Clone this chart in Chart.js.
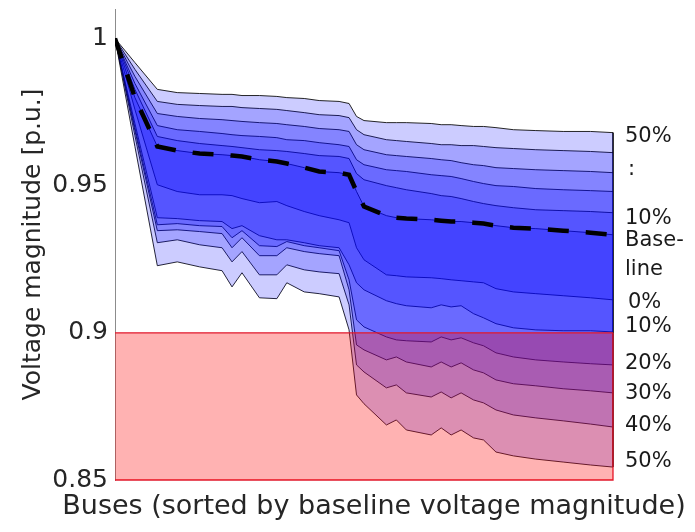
<!DOCTYPE html>
<html>
<head>
<meta charset="utf-8">
<title>Voltage magnitude by bus</title>
<script src="https://cdn.jsdelivr.net/npm/chart.js@4/dist/chart.umd.min.js"></script>
<style>
  html, body { margin: 0; padding: 0; background: #ffffff; }
  #wrap { width: 695px; height: 532px; }
</style>
</head>
<body>
<div id="wrap"><canvas id="chart" width="695" height="532"></canvas></div>
<script>
// Bus positions (sorted by baseline voltage magnitude)
const buses = [0, 8, 17, 25, 34, 43, 47, 51, 58, 65, 69, 76, 82, 90, 94, 97,
               100, 109, 113, 117, 127, 131, 135, 139, 144, 148, 153, 160, 169, 180, 191, 200];

// Voltage profiles [p.u.] for raised-voltage scenarios
const up50 = [1.0, 0.9918, 0.9827, 0.9816, 0.9813, 0.9810, 0.9810, 0.9806, 0.9806, 0.9803, 0.9799, 0.9796, 0.9789, 0.9786, 0.9779, 0.9735,
              0.9721, 0.9714, 0.9714, 0.9714, 0.9711, 0.9707, 0.9707, 0.9704, 0.9701, 0.9701, 0.9697, 0.9690, 0.9687, 0.9684, 0.9684, 0.9680];
const up40 = [1.0, 0.9895, 0.9786, 0.9776, 0.9772, 0.9769, 0.9769, 0.9765, 0.9762, 0.9759, 0.9755, 0.9748, 0.9741, 0.9738, 0.9731, 0.9690,
              0.9673, 0.9656, 0.9653, 0.9650, 0.9643, 0.9639, 0.9639, 0.9636, 0.9636, 0.9633, 0.9629, 0.9626, 0.9622, 0.9619, 0.9616, 0.9612];
const up30 = [1.0, 0.9871, 0.9745, 0.9735, 0.9728, 0.9724, 0.9721, 0.9718, 0.9714, 0.9711, 0.9707, 0.9701, 0.9694, 0.9690, 0.9684, 0.9639,
              0.9622, 0.9605, 0.9602, 0.9599, 0.9592, 0.9588, 0.9585, 0.9578, 0.9571, 0.9568, 0.9561, 0.9558, 0.9554, 0.9551, 0.9548, 0.9544];
const up20 = [1.0, 0.9847, 0.9704, 0.9690, 0.9684, 0.9677, 0.9673, 0.9670, 0.9667, 0.9663, 0.9656, 0.9653, 0.9646, 0.9639, 0.9633, 0.9588,
              0.9571, 0.9554, 0.9551, 0.9548, 0.9537, 0.9534, 0.9531, 0.9524, 0.9514, 0.9507, 0.9500, 0.9497, 0.9490, 0.9486, 0.9483, 0.9480];
const up10 = [1.0, 0.9827, 0.9667, 0.9653, 0.9643, 0.9636, 0.9633, 0.9629, 0.9622, 0.9619, 0.9616, 0.9609, 0.9602, 0.9599, 0.9592, 0.9541,
              0.9520, 0.9500, 0.9493, 0.9486, 0.9473, 0.9466, 0.9463, 0.9456, 0.9446, 0.9439, 0.9432, 0.9425, 0.9418, 0.9415, 0.9412, 0.9408];

// Baseline profile
const baseline = [1.0, 0.9799, 0.9633, 0.9619, 0.9609, 0.9605, 0.9602, 0.9599, 0.9588, 0.9582, 0.9575, 0.9561, 0.9548, 0.9544, 0.9537, 0.9480,
                  0.9429, 0.9398, 0.9391, 0.9388, 0.9384, 0.9381, 0.9378, 0.9378, 0.9374, 0.9371, 0.9364, 0.9357, 0.9354, 0.9347, 0.9340, 0.9333];

// Voltage profiles [p.u.] for lowered-voltage scenarios
const low0 = [1.0, 0.9759, 0.9503, 0.9480, 0.9469, 0.9469, 0.9466, 0.9456, 0.9442, 0.9446, 0.9432, 0.9412, 0.9398, 0.9384, 0.9374, 0.9289,
              0.9248, 0.9197, 0.9194, 0.9190, 0.9187, 0.9184, 0.9180, 0.9177, 0.9173, 0.9170, 0.9150, 0.9139, 0.9133, 0.9126, 0.9119, 0.9112];
const low10 = [1.0, 0.9711, 0.9391, 0.9388, 0.9381, 0.9378, 0.9354, 0.9364, 0.9330, 0.9316, 0.9316, 0.9306, 0.9296, 0.9289, 0.9231, 0.9170,
               0.9146, 0.9109, 0.9099, 0.9092, 0.9085, 0.9095, 0.9088, 0.9092, 0.9065, 0.9051, 0.9031, 0.9017, 0.9010, 0.9007, 0.9007, 0.9003];
const low20 = [1.0, 0.9697, 0.9367, 0.9371, 0.9364, 0.9361, 0.9323, 0.9347, 0.9296, 0.9293, 0.9310, 0.9296, 0.9289, 0.9279, 0.9180, 0.9044,
               0.9020, 0.8986, 0.8976, 0.8973, 0.8969, 0.8986, 0.8976, 0.8983, 0.8966, 0.8956, 0.8932, 0.8918, 0.8908, 0.8901, 0.8895, 0.8891];
const low30 = [1.0, 0.9687, 0.9347, 0.9350, 0.9344, 0.9337, 0.9289, 0.9323, 0.9262, 0.9262, 0.9289, 0.9276, 0.9269, 0.9262, 0.9146, 0.8959,
               0.8942, 0.8908, 0.8918, 0.8901, 0.8884, 0.8901, 0.8884, 0.8898, 0.8874, 0.8864, 0.8840, 0.8827, 0.8820, 0.8810, 0.8803, 0.8796];
const low40 = [1.0, 0.9670, 0.9306, 0.9316, 0.9299, 0.9289, 0.9241, 0.9276, 0.9197, 0.9197, 0.9231, 0.9214, 0.9207, 0.9201, 0.9095, 0.8891,
               0.8867, 0.8813, 0.8823, 0.8796, 0.8782, 0.8799, 0.8779, 0.8796, 0.8772, 0.8762, 0.8738, 0.8721, 0.8711, 0.8701, 0.8690, 0.8680];
const low50 = [1.0, 0.9633, 0.9228, 0.9241, 0.9224, 0.9211, 0.9156, 0.9204, 0.9119, 0.9116, 0.9170, 0.9139, 0.9133, 0.9122, 0.9010, 0.8789,
               0.8759, 0.8687, 0.8704, 0.8670, 0.8653, 0.8677, 0.8653, 0.8670, 0.8643, 0.8636, 0.8595, 0.8582, 0.8571, 0.8561, 0.8551, 0.8544];

// Axis ticks and limits
const yTicks = [0.85, 0.9, 0.95, 1];
const lowerLimit = 0.9;
const axisFloor = 0.85;

// Scenario labels at the right edge and the voltage level each one sits at
const sideLabels = ['50%', ':', '10%', 'Base-', 'line', '0%', '10%', '20%', '30%', '40%', '50%'];
const sideLabelLevels = [0.9667, 0.9554, 0.9388, 0.9313, 0.9214, 0.9102, 0.9020, 0.8895, 0.8793, 0.8684, 0.8561];

const xTitle = 'Buses (sorted by baseline voltage magnitude)';

const FONT = 'DejaVu Sans';
const TEXT = '#262626';
const BAND = 'rgba(0,0,255,0.2)';
const EDGE = 'rgba(0,0,0,0.85)';
const LIMIT = 'rgb(225,25,45)';

const pts = arr => buses.map((b, i) => ({ x: b, y: arr[i] }));
const last = buses.length - 1;
const xEnd = buses[last];
const xStart = buses[0];

const curve = (arr, fillTarget) => ({
  data: pts(arr),
  borderColor: EDGE,
  borderWidth: 1,
  backgroundColor: BAND,
  fill: fillTarget === undefined ? false : { target: fillTarget, above: BAND, below: BAND },
  pointRadius: 0,
  tension: 0,
  order: 10
});

const datasets = [
  // 0: under-voltage zone below the limit
  { data: [{ x: xStart, y: lowerLimit }, { x: xEnd, y: lowerLimit }],
    borderColor: LIMIT, borderWidth: 1.3, backgroundColor: 'rgba(255,0,0,0.3)',
    fill: 'start', pointRadius: 0, order: 0, clip: false },
  // 1: remaining frame of the zone
  { data: [{ x: xEnd, y: lowerLimit }, { x: xEnd, y: axisFloor }, { x: xStart, y: axisFloor }],
    borderColor: LIMIT, borderWidth: 1.3, fill: false, pointRadius: 0, order: 1, clip: false },
  // 2: baseline, dashed
  { data: pts(baseline), borderColor: '#000000', borderWidth: 4.5, borderDash: [21, 17],
    borderCapStyle: 'butt', fill: false, pointRadius: 0, order: 2 },
  // 3..7: raised scenarios, each filled down to its lowered counterpart
  curve(up50, 14),
  curve(up40, 13),
  curve(up30, 12),
  curve(up20, 11),
  curve(up10, 10),
  // 8: baseline edge filled to the 0% profile
  curve(baseline, 9),
  // 9..14: lowered scenarios
  curve(low0),
  curve(low10),
  curve(low20),
  curve(low30),
  curve(low40),
  curve(low50),
  // 15: closing edge at the last bus
  { data: [{ x: xEnd, y: up50[last] }, { x: xEnd, y: low50[last] }],
    borderColor: EDGE, borderWidth: 1, fill: false, pointRadius: 0, order: 10, clip: false }
];

// Scenario labels beside the plot and the x-axis caption (drawn unsqueezed)
const annotatePlugin = {
  id: 'annotate',
  afterDraw(chart) {
    const { ctx, chartArea, scales } = chart;
    ctx.save();
    ctx.font = '21px "' + FONT + '"';
    ctx.fillStyle = '#1a1a1a';
    ctx.textAlign = 'left';
    ctx.textBaseline = 'middle';
    sideLabels.forEach((t, i) => {
      const dx = (t === ':' || t === '0%') ? 15 : 12;
      ctx.fillText(t, chartArea.right + dx, scales.y.getPixelForValue(sideLabelLevels[i]));
    });
    ctx.font = '27px "' + FONT + '"';
    ctx.fillStyle = TEXT;
    ctx.textAlign = 'center';
    ctx.fillText(xTitle, (chartArea.left + chartArea.right) / 2 + 10, chartArea.bottom + 27);
    ctx.restore();
  }
};

new Chart(document.getElementById('chart'), {
  type: 'line',
  data: { datasets },
  plugins: [annotatePlugin],
  options: {
    responsive: false,
    animation: false,
    devicePixelRatio: 1,
    layout: { padding: { top: 9, right: 82, left: 0, bottom: 0 } },
    plugins: {
      legend: { display: false },
      tooltip: { enabled: false }
    },
    scales: {
      x: {
        type: 'linear',
        min: xStart,
        max: xEnd,
        grid: { display: false, drawTicks: false },
        border: { display: false },
        ticks: { display: false },
        title: { display: false },
        afterFit(s) { s.height = 52; s.paddingLeft = 0; s.paddingRight = 0; }
      },
      y: {
        type: 'linear',
        min: axisFloor,
        max: 1.01,
        grid: { display: false, drawTicks: false },
        border: { display: true, color: '#8c8c8c', width: 1 },
        ticks: {
          font: { family: FONT, size: 25 },
          color: TEXT,
          padding: 7,
          callback: v => String(v)
        },
        afterBuildTicks(s) { s.ticks = yTicks.map(v => ({ value: v })); },
        title: {
          display: true,
          text: 'Voltage magnitude [p.u.]',
          font: { family: FONT, size: 25 },
          color: TEXT,
          padding: { top: 18, bottom: 0 }
        },
        afterFit(s) { s.width = 115; s.paddingTop = 0; s.paddingBottom = 0; }
      }
    }
  }
});
</script>
</body>
</html>
